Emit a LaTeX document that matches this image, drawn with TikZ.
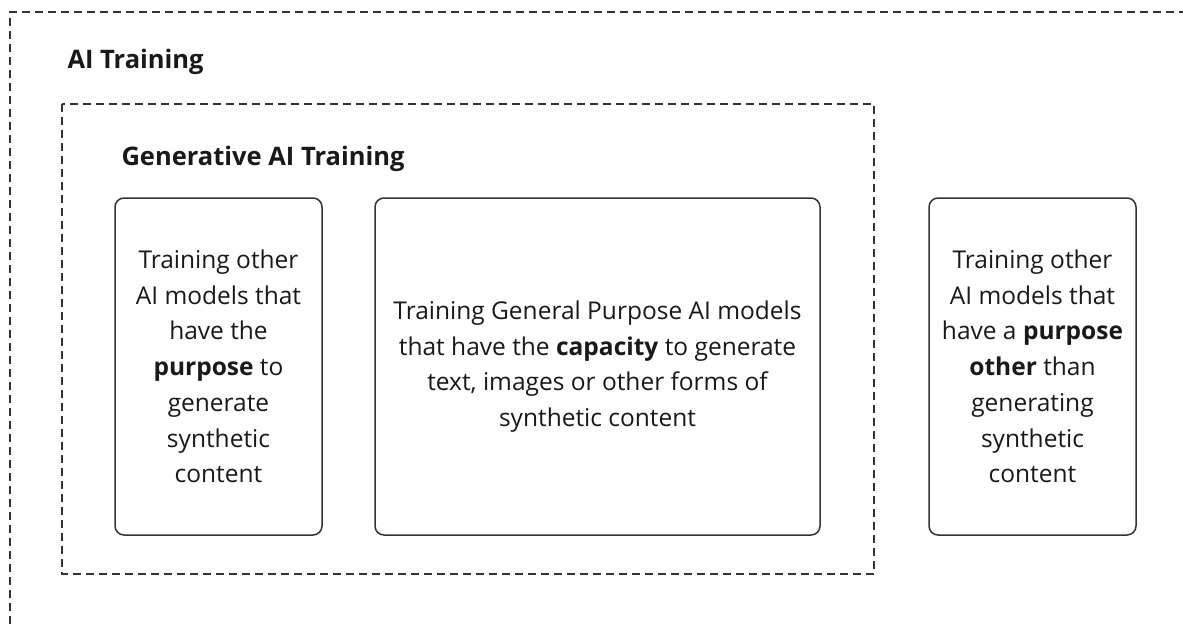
\documentclass[tikz,border=0pt]{standalone}
\usepackage{fontspec}
\setmainfont{Open Sans}
\begin{document}
\begin{tikzpicture}[x=1pt,y=-1pt,
  frame/.style={draw=black!80, line width=1.5pt, dash pattern=on 8pt off 5pt},
  card/.style={draw=black!80, line width=1.5pt, rounded corners=9pt, fill=white},
  cardtext/.style={align=center, font=\fontsize{24.5}{35.7}\selectfont, text=black!90},
  heading/.style={anchor=base west, font=\fontsize{25.5}{30}\selectfont\bfseries, text=black!90}]
  \useasboundingbox (0,0) rectangle (1183,625);
  % outer region, running past the right and bottom edges
  \draw[frame] (1200,12) -- (10,12) -- (10,640);
  \node[heading] (outer) at (64,68) {AI Training};
  % generative region
  \draw[frame] (62,104) rectangle (874,574);
  \node[heading] (inner) at (118,165) {Generative AI Training};
  % cards
  \draw[card] (115,198) rectangle (322,535);
  \node[cardtext] (c1) at (218.5,366.5) {Training other\\AI models that\\have the\\\textbf{purpose} to\\generate\\synthetic\\content};
  \draw[card] (375,198) rectangle (820,535);
  \node[cardtext] (c2) at (597.5,366.5) {Training General Purpose AI models\\that have the \textbf{capacity} to generate\\text, images or other forms of\\synthetic content};
  \draw[card] (929,198) rectangle (1136,535);
  \node[cardtext] (c3) at (1032.5,366.5) {Training other\\AI models that\\have a \textbf{purpose}\\\textbf{other} than\\generating\\synthetic\\content};
\end{tikzpicture}
\end{document}
